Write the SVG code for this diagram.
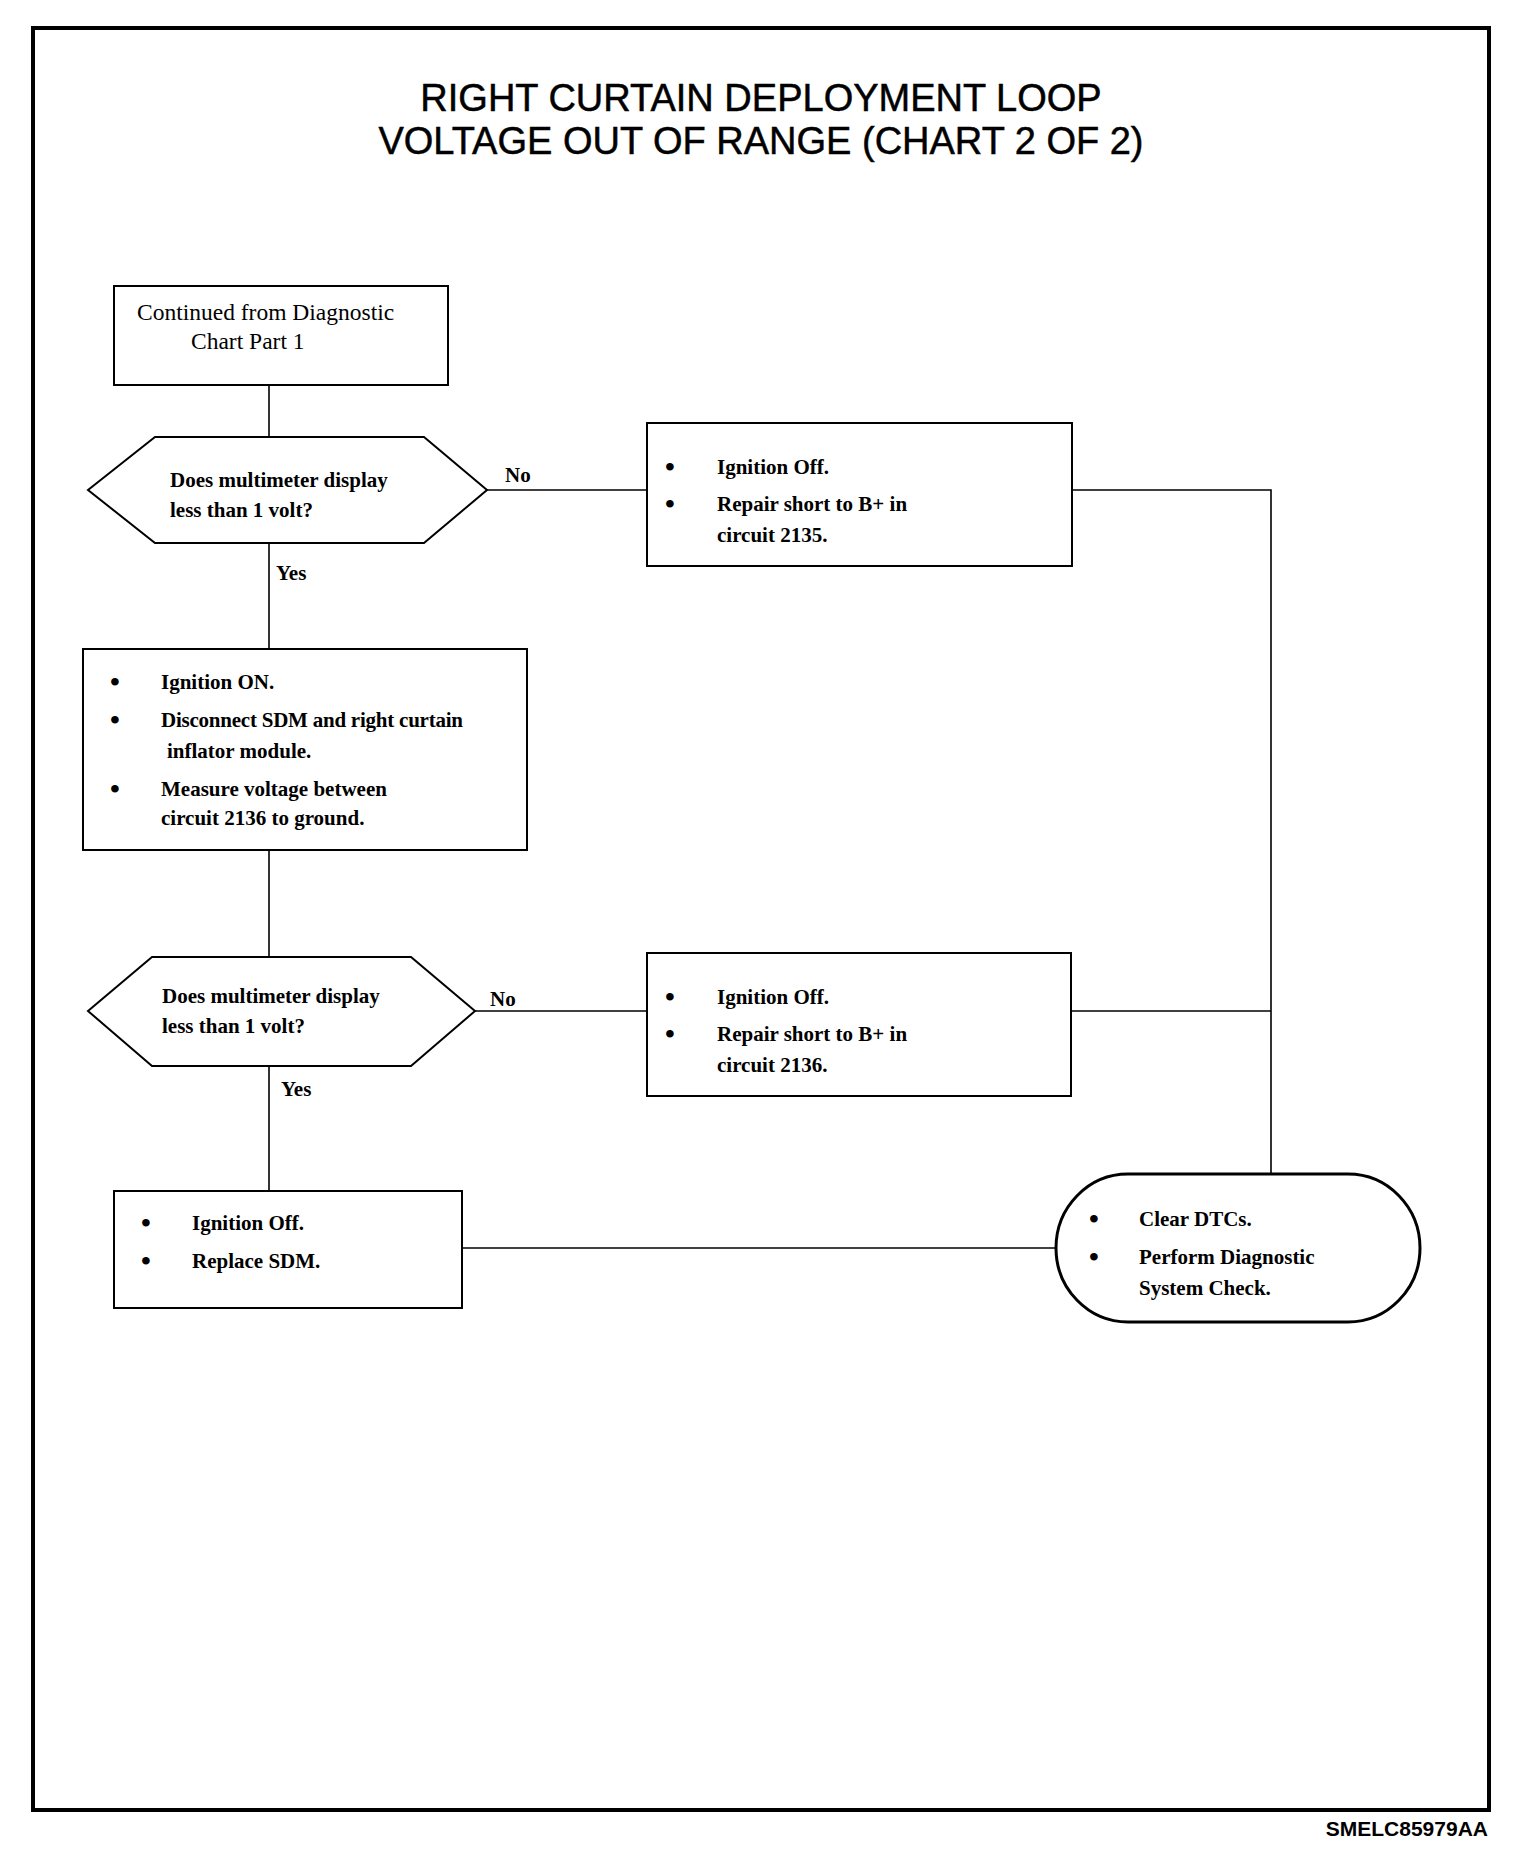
<svg xmlns="http://www.w3.org/2000/svg" width="1520" height="1856" viewBox="0 0 1520 1856">
<style>
.frame{fill:none;stroke:#000;stroke-width:4}
.box{fill:#fff;stroke:#000;stroke-width:2}
.term{fill:#fff;stroke:#000;stroke-width:3}
.wire{fill:none;stroke:#000;stroke-width:1.6}
.title{font-family:"Liberation Sans",Arial,sans-serif;font-size:38px;fill:#000;stroke:#000;stroke-width:0.5;text-anchor:middle}
.reg{font-family:"Liberation Serif","Times New Roman",serif;font-size:23.5px;fill:#000}
.b{font-family:"Liberation Serif","Times New Roman",serif;font-size:21px;font-weight:bold;fill:#000}
.dot{font-family:"Liberation Serif","Times New Roman",serif;font-size:28px;font-weight:bold;fill:#000}
.id{font-family:"Liberation Sans",Arial,sans-serif;font-size:21px;font-weight:bold;fill:#000;text-anchor:end}
</style>
<rect width="1520" height="1856" fill="#fff"/>
<rect class="frame" x="33" y="28" width="1456" height="1782"/>
<text class="title" x="761" y="111">RIGHT CURTAIN DEPLOYMENT LOOP</text>
<text class="title" x="761" y="154">VOLTAGE OUT OF RANGE (CHART 2 OF 2)</text>
<text class="id" x="1488" y="1836">SMELC85979AA</text>

<g id="connectors">
<path class="wire" d="M269 385 V437"/>
<path class="wire" d="M487 490 H647"/>
<path class="wire" d="M269 543 V649"/>
<path class="wire" d="M269 850 V957"/>
<path class="wire" d="M475 1011 H647"/>
<path class="wire" d="M269 1066 V1191"/>
<path class="wire" d="M1072 490 H1271 V1173"/>
<path class="wire" d="M1071 1011 H1271"/>
<path class="wire" d="M462 1248 H1055"/>
<text class="b" x="505" y="482">No</text>
<text class="b" x="276" y="580">Yes</text>
<text class="b" x="490" y="1006">No</text>
<text class="b" x="281" y="1096">Yes</text>
</g>

<g id="start">
<rect class="box" x="114" y="286" width="334" height="99"/>
<text class="reg" x="137" y="320">Continued from Diagnostic</text>
<text class="reg" x="191" y="349">Chart Part 1</text>
</g>

<g id="decision1">
<polygon class="box" points="88,490 155,437 424,437 487,490 424,543 155,543"/>
<text class="b" x="170" y="487">Does multimeter display</text>
<text class="b" x="170" y="517">less than 1 volt?</text>
</g>

<g id="repair2135">
<rect class="box" x="647" y="423" width="425" height="143"/>
<text class="dot" x="665" y="476">•</text>
<text class="b" x="717" y="474">Ignition Off.</text>
<text class="dot" x="665" y="513">•</text>
<text class="b" x="717" y="511">Repair short to B+ in</text>
<text class="b" x="717" y="542">circuit 2135.</text>
</g>

<g id="measure">
<rect class="box" x="83" y="649" width="444" height="201"/>
<text class="dot" x="110" y="691">•</text>
<text class="b" x="161" y="689">Ignition ON.</text>
<text class="dot" x="110" y="729">•</text>
<text class="b" x="161" y="727" textLength="302">Disconnect SDM and right curtain</text>
<text class="b" x="167" y="758">inflator module.</text>
<text class="dot" x="110" y="798">•</text>
<text class="b" x="161" y="796">Measure voltage between</text>
<text class="b" x="161" y="825">circuit 2136 to ground.</text>
</g>

<g id="decision2">
<polygon class="box" points="88,1011 152,957 411,957 475,1011 411,1066 152,1066"/>
<text class="b" x="162" y="1003">Does multimeter display</text>
<text class="b" x="162" y="1033">less than 1 volt?</text>
</g>

<g id="repair2136">
<rect class="box" x="647" y="953" width="424" height="143"/>
<text class="dot" x="665" y="1006">•</text>
<text class="b" x="717" y="1004">Ignition Off.</text>
<text class="dot" x="665" y="1043">•</text>
<text class="b" x="717" y="1041">Repair short to B+ in</text>
<text class="b" x="717" y="1072">circuit 2136.</text>
</g>

<g id="replaceSDM">
<rect class="box" x="114" y="1191" width="348" height="117"/>
<text class="dot" x="141" y="1232">•</text>
<text class="b" x="192" y="1230">Ignition Off.</text>
<text class="dot" x="141" y="1270">•</text>
<text class="b" x="192" y="1268">Replace SDM.</text>
</g>

<g id="finish">
<rect class="term" x="1056" y="1174" width="364" height="148" rx="72" ry="74"/>
<text class="dot" x="1089" y="1228">•</text>
<text class="b" x="1139" y="1226">Clear DTCs.</text>
<text class="dot" x="1089" y="1266">•</text>
<text class="b" x="1139" y="1264">Perform Diagnostic</text>
<text class="b" x="1139" y="1295">System Check.</text>
</g>
</svg>
